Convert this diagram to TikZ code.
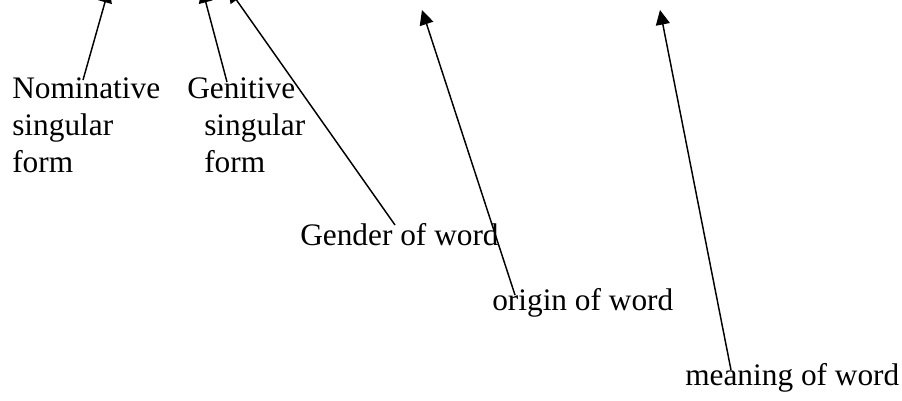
\documentclass[tikz,border=0pt]{standalone}
\usepackage{fontspec}
\setmainfont{Liberation Serif}
\usepackage{tikz}
\usetikzlibrary{calc,arrows.meta}
\definecolor{inkc}{HTML}{000000}
\tikzset{
  ar/.style={-{Triangle[length=11pt,width=10.5pt]},line width=1.1pt,inkc},
  lbl/.style={inner sep=0pt,anchor=base west,align=left,text=inkc,
    font=\fontsize{23.5pt}{27.4pt}\selectfont}
}
\begin{document}
\begin{tikzpicture}[x=0.75pt,y=-0.75pt]
\useasboundingbox (0,0) rectangle (902,400);
\clip (0,0) rectangle (902,400);
% labels
\node[lbl] (nom) at (12,172) {Nominative\\singular\\form};
\node[lbl] (gen) at (187,172) {Genitive\\\hspace*{12.75pt}singular\\\hspace*{12.75pt}form};
\node[lbl] (gend) at (300,245) {Gender of word};
\node[lbl] (orig) at (492,310) {origin of word};
\node[lbl] (mean) at (685,385) {meaning of word};
% arrow tips
\coordinate (tnom) at (109,-12);
\coordinate (tgen) at (202,-12);
\coordinate (tgend) at (228,-12);
\coordinate (torig) at (422,10);
\coordinate (tmean) at (660,10);
% arrows
\draw[ar] ($(nom.base west)+(71,-92)$) -- (tnom);
\draw[ar] ($(gen.base west)+(40,-90)$) -- (tgen);
\draw[ar] ($(gend.base west)+(95,-20)$) -- (tgend);
\draw[ar] ($(orig.base west)+(23,-15)$) -- (torig);
\draw[ar] ($(mean.base west)+(46,-15)$) -- (tmean);
\end{tikzpicture}
\end{document}
